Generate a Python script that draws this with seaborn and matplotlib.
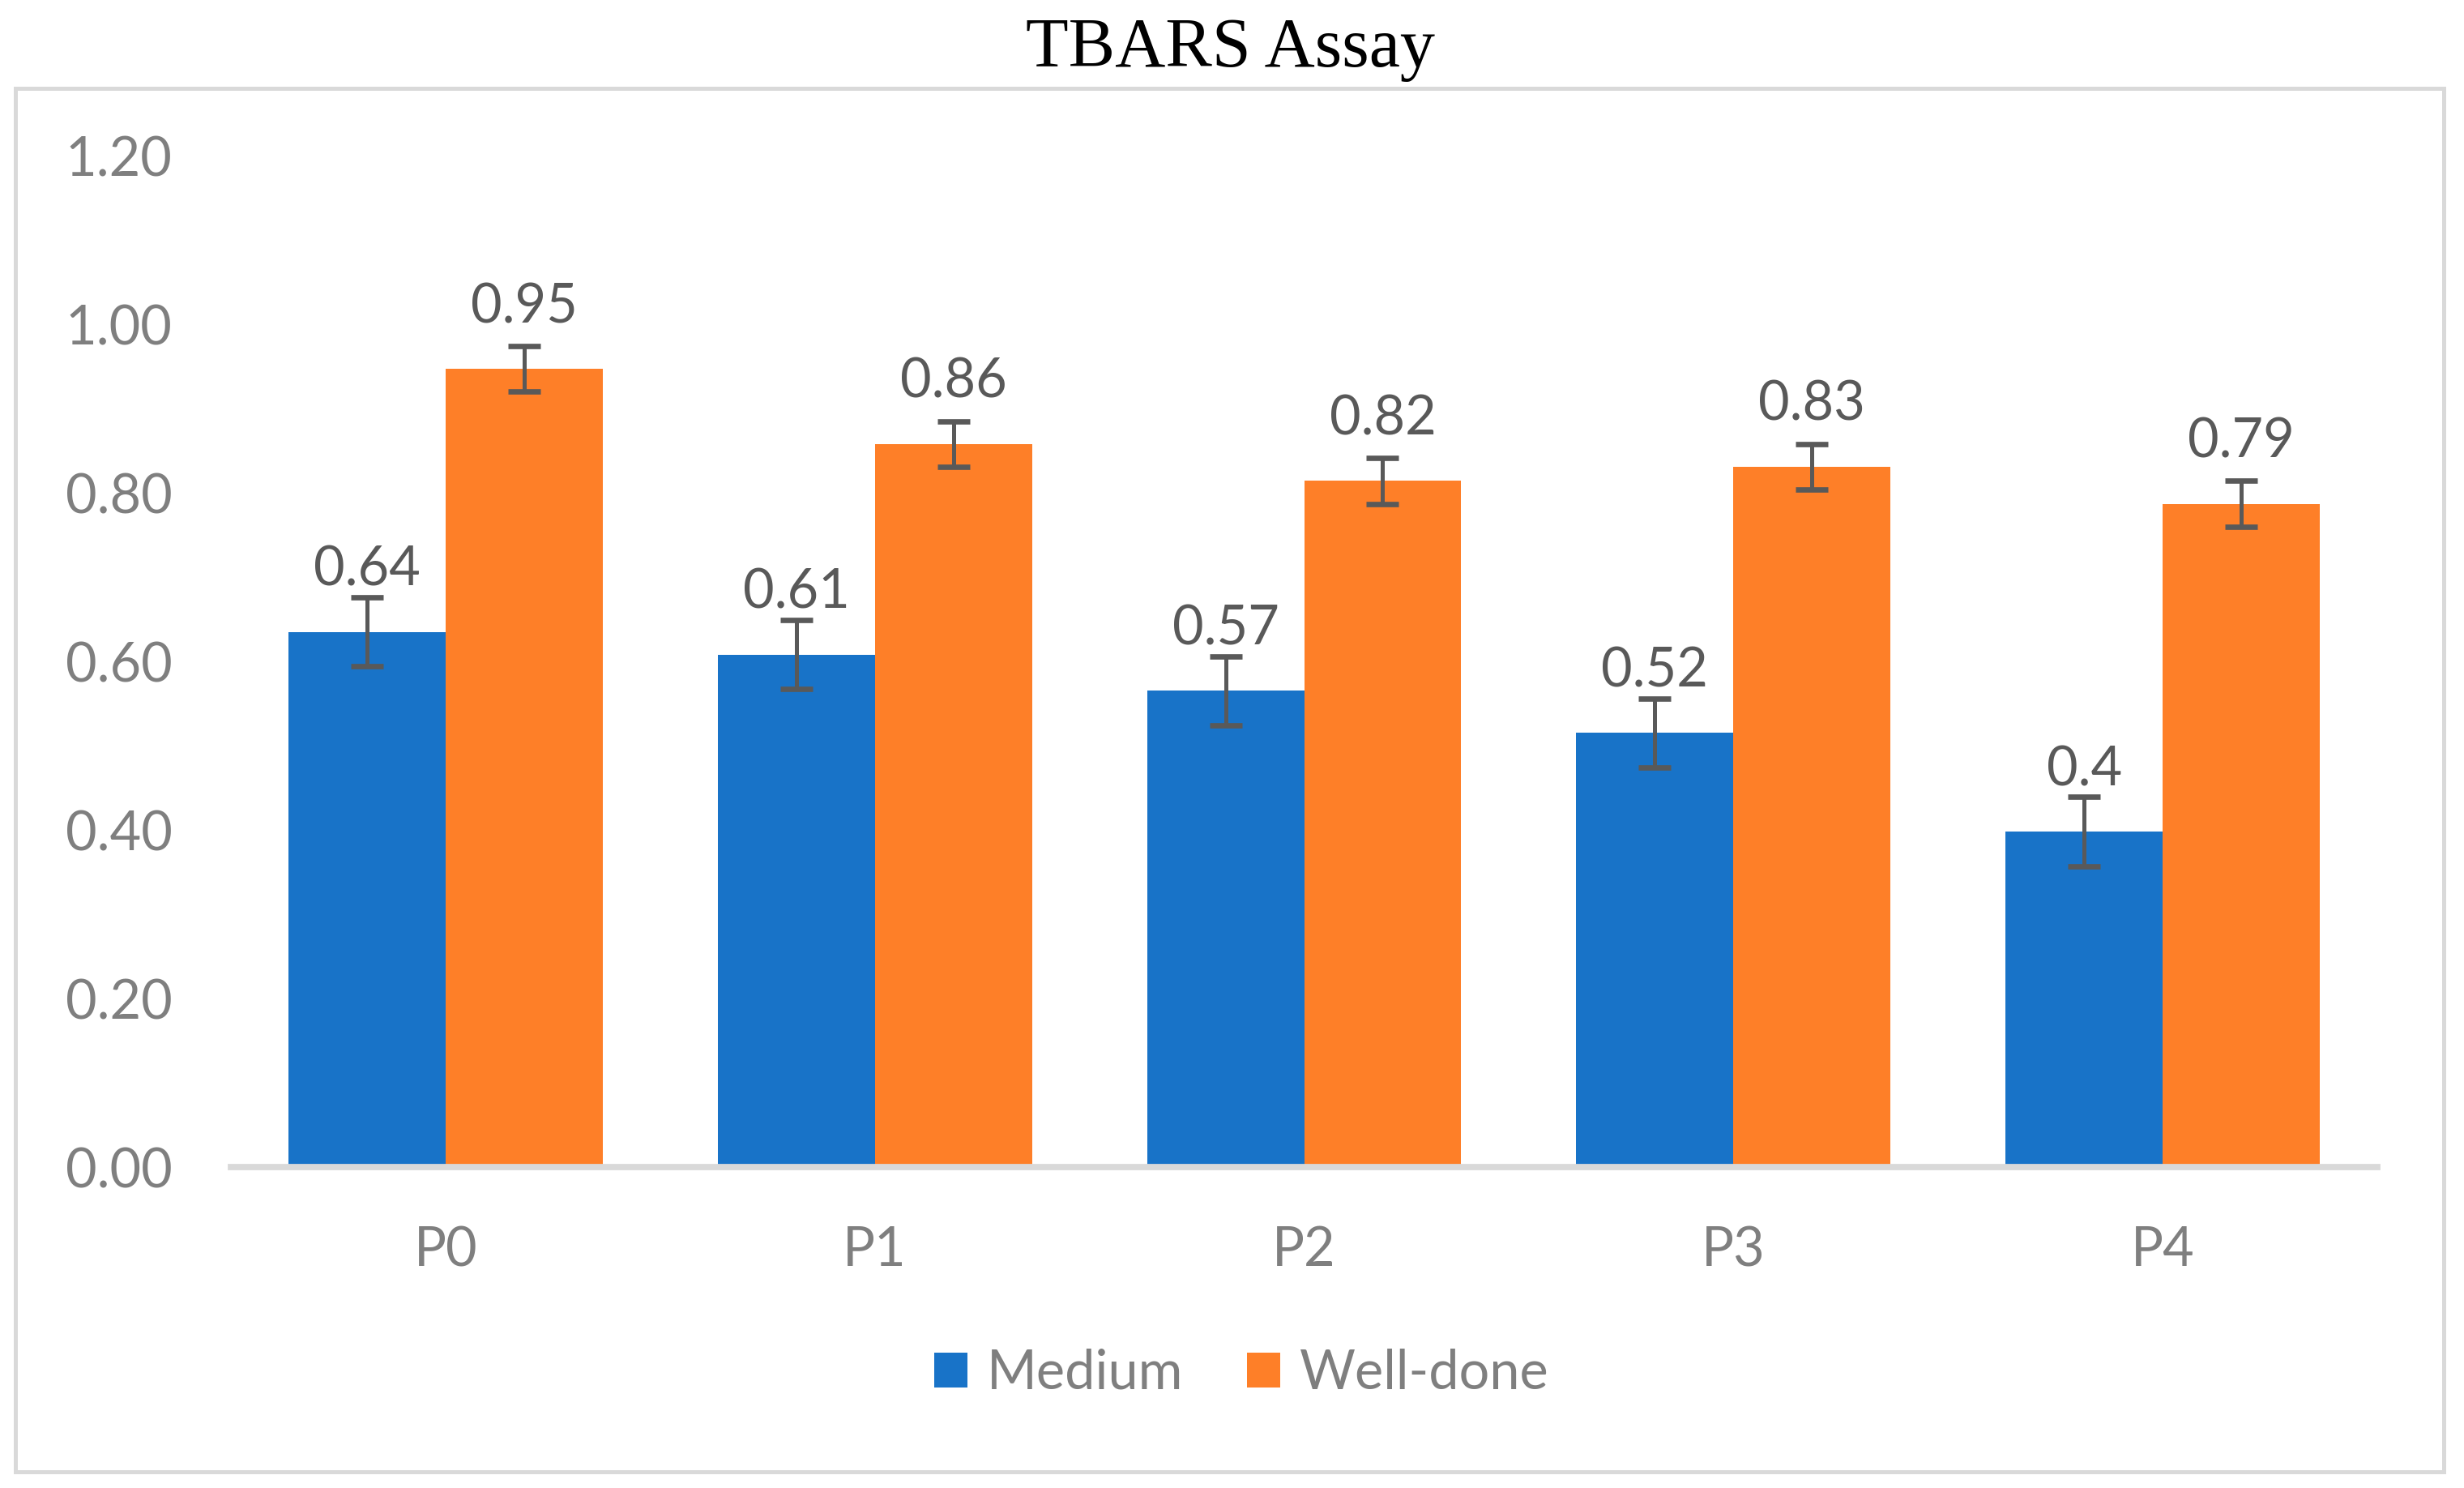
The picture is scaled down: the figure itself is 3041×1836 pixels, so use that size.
import numpy as np
import pandas as pd
import matplotlib
matplotlib.use("Agg")
import matplotlib.pyplot as plt
from matplotlib.patches import Rectangle
import seaborn as sns

# ---- data ----
categories = ["P0", "P1", "P2", "P3", "P4"]
series_names = ["Medium", "Well-done"]
medium_values = [0.635, 0.608, 0.565, 0.515, 0.398]
welldone_values = [0.947, 0.858, 0.814, 0.831, 0.787]
medium_err = [0.041, 0.041, 0.041, 0.041, 0.041]
welldone_err = [0.027, 0.027, 0.027, 0.027, 0.027]
medium_labels = ["0.64", "0.61", "0.57", "0.52", "0.4"]
welldone_labels = ["0.95", "0.86", "0.82", "0.83", "0.79"]
y_ticks = [0.0, 0.2, 0.4, 0.6, 0.8, 1.0, 1.2]
title_text = "TBARS Assay"

colors = ["#1873C8", "#FE7F28"]

df = pd.DataFrame({
    "Category": categories * 2,
    "Series": [series_names[0]] * len(categories) + [series_names[1]] * len(categories),
    "Value": medium_values + welldone_values,
})

sns.set_theme(style="white")
plt.rcParams["font.family"] = ["Lato", "DejaVu Sans"]

W, H, DPI = 3041, 1836, 200
fig = plt.figure(figsize=(W / DPI, H / DPI), dpi=DPI)
ax = fig.add_axes([285 / W, 1 - 1440 / H, (2934 - 285) / W, (1440 - 192) / H])

sns.barplot(data=df, x="Category", y="Value", hue="Series", order=categories,
            hue_order=series_names, palette=colors, saturation=1, width=0.732,
            errorbar=None, ax=ax, legend=True, linewidth=0, edgecolor="none")

ax.set_ylim(0, 1.2)
ax.set_xlim(-0.5, len(categories) - 0.5)
ax.set_yticks(y_ticks)
ax.set_yticklabels([f"{t:.2f}" for t in y_ticks])
ax.set_xlabel("")
ax.set_ylabel("")
ax.tick_params(axis="both", length=0, labelsize=24, colors="#7F7F7F")
ax.tick_params(axis="y", pad=26)
ax.tick_params(axis="x", pad=26)
for s in ["top", "right", "left"]:
    ax.spines[s].set_visible(False)
ax.spines["bottom"].set_color("#D9D9D9")
ax.spines["bottom"].set_linewidth(2.8)
ax.grid(False)

# error bars and data labels, placed at the library's bar positions
errs = [medium_err, welldone_err]
labels = [medium_labels, welldone_labels]
bar_containers = list(ax.containers)
for ci, cont in enumerate(bar_containers):
    xs = [p.get_x() + p.get_width() / 2 for p in cont.patches]
    hs = [p.get_height() for p in cont.patches]
    ax.errorbar(xs, hs, yerr=errs[ci], fmt="none", ecolor="#595959",
                elinewidth=1.8, capsize=7.2, capthick=2.4, zorder=5)
    for x, h, lab in zip(xs, hs, labels[ci]):
        ax.annotate(lab, (x, h), xytext=(0, 20.5), textcoords="offset points",
                    ha="center", va="baseline", fontsize=24, color="#595959")

# legend
handles, lbls = ax.get_legend_handles_labels()
if ax.legend_ is not None:
    ax.legend_.remove()
fig.legend(handles, lbls, loc="center", bbox_to_anchor=(1532 / W, 1 - 1695 / H),
           ncol=2, frameon=False, fontsize=24, labelcolor="#7F7F7F",
           handlelength=0.625, handleheight=0.625, handletextpad=0.35,
           columnspacing=1.18, borderpad=0)

# title
fig.text(1518 / W, 1 - 82 / H, title_text, ha="center", va="baseline",
         fontsize=31, color="black", family=["Liberation Serif", "DejaVu Serif"])

# chart border
fig.patches.append(Rectangle((19 / W, 1 - 1816 / H), (3016 - 19) / W, (1816 - 109) / H,
                             transform=fig.transFigure, fill=False,
                             edgecolor="#D9D9D9", linewidth=1.8, zorder=0))

fig.savefig("out.png", dpi=DPI, facecolor="white")
